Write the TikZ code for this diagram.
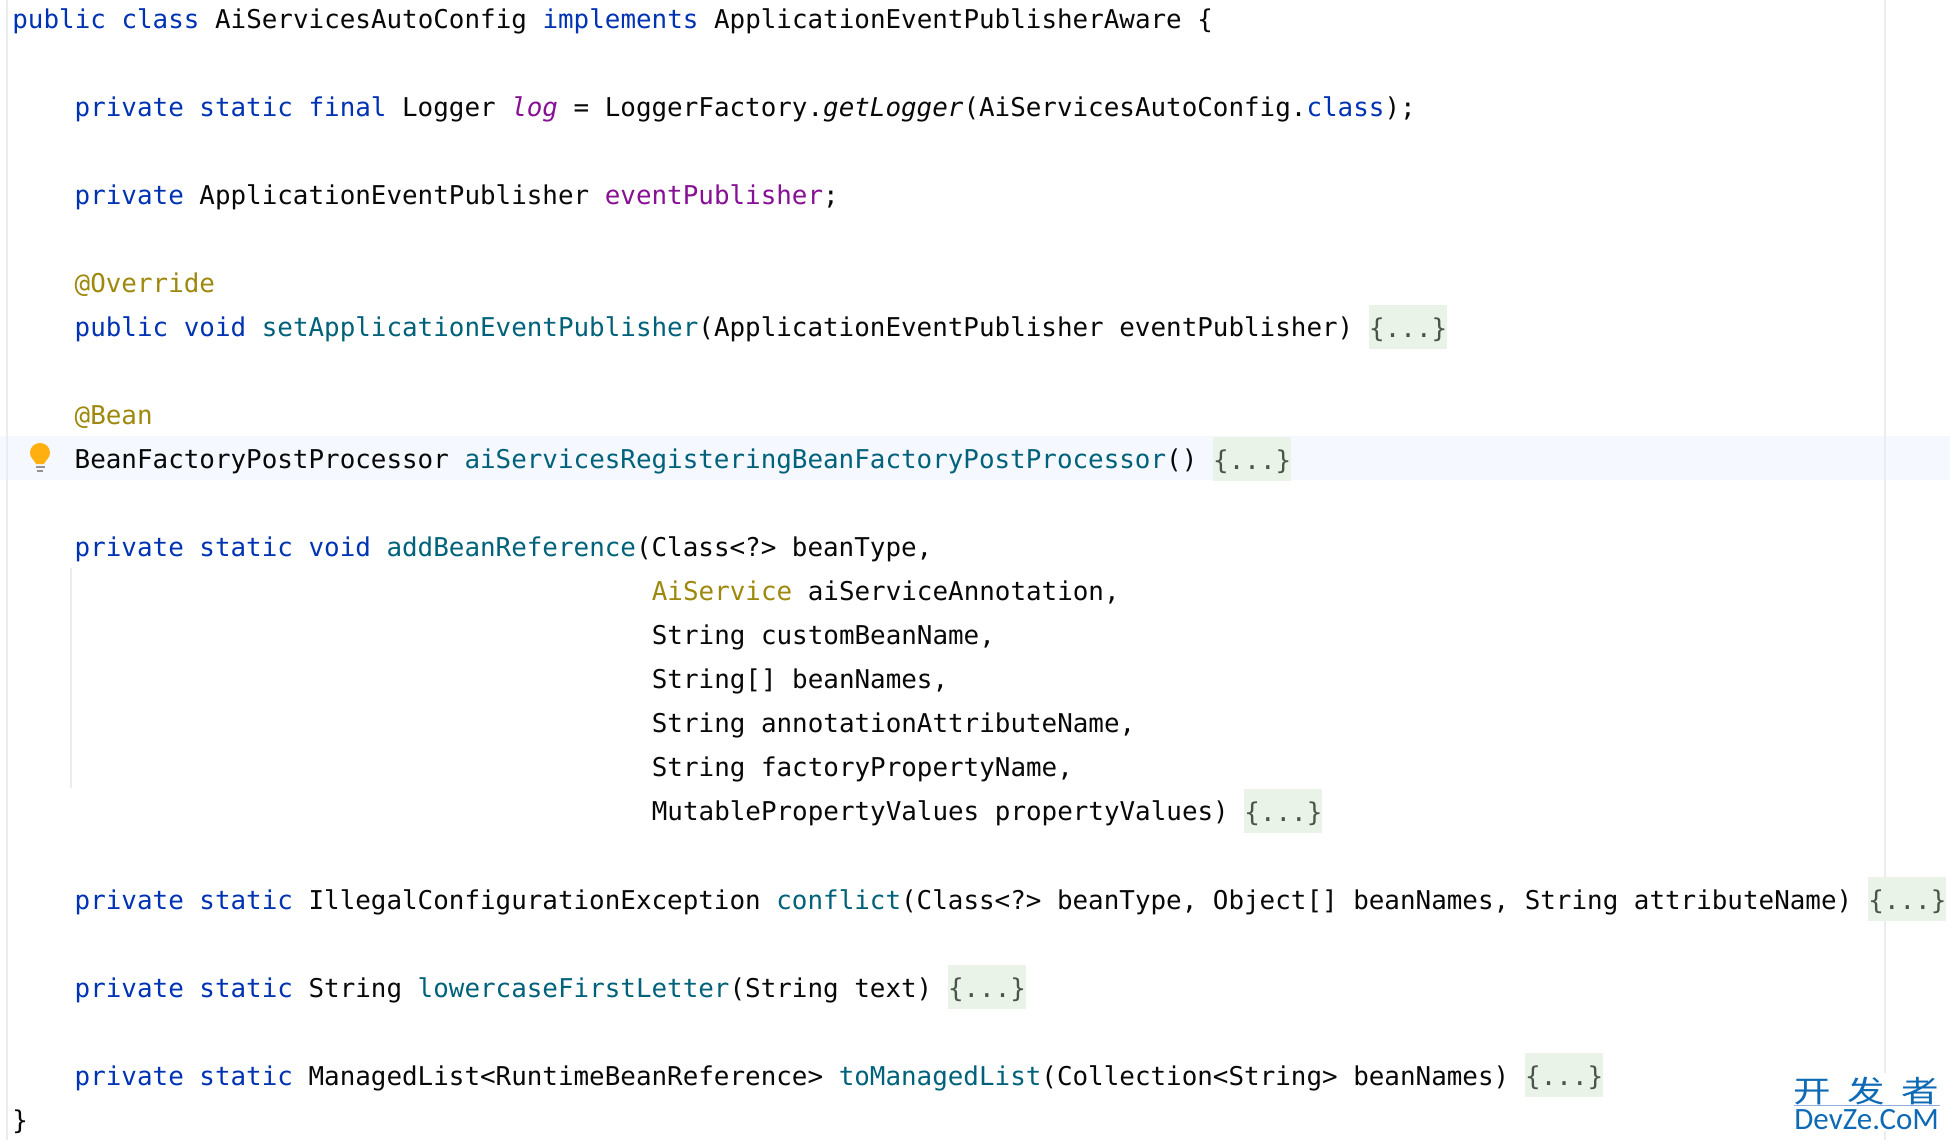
\documentclass[tikz,border=0pt]{standalone}
\usepackage{fontspec}
\setmonofont{DejaVu Sans Mono}
\newfontfamily\wmcjk{Noto Sans CJK SC}
\newfontfamily\wmlat{Carlito}
\definecolor{kwc}{HTML}{0033B3}
\definecolor{mtc}{HTML}{00627A}
\definecolor{fdc}{HTML}{871094}
\definecolor{anc}{HTML}{9E880D}
\definecolor{txc}{HTML}{080808}
\definecolor{foldbg}{HTML}{E9F3E7}
\definecolor{foldtx}{HTML}{4A554A}
\definecolor{guide}{HTML}{EBECF0}
\definecolor{caret}{HTML}{F5F8FE}
\definecolor{bulb}{HTML}{FFAF0F}
\definecolor{wmc}{HTML}{0E6AB5}
\newcommand{\kw}[1]{\textcolor{kwc}{#1}}
\newcommand{\mt}[1]{\textcolor{mtc}{#1}}
\newcommand{\fd}[1]{\textcolor{fdc}{#1}}
\newcommand{\an}[1]{\textcolor{anc}{#1}}
\tikzset{
  code/.style={anchor=base west,inner sep=0pt,text=txc,font=\fontsize{12.95pt}{16pt}\ttfamily},
  fold/.style={anchor=base west,inner sep=0pt,fill=foldbg,text=foldtx,text width=39pt,align=center,
    text height=16pt,text depth=6pt,font=\fontsize{12.95pt}{16pt}\ttfamily},
  rule/.style={draw=guide,line width=0.75pt}
}
\begin{document}
\begin{tikzpicture}[x=0.5pt,y=-0.5pt]
\useasboundingbox (0,0) rectangle (1950,1140);
% editor chrome
\fill[caret] (0,436) rectangle (1950,480);
\draw[rule] (7,0) -- (7,1140);
\draw[rule] (1885,0) -- (1885,1140);
\draw[rule] (71,568) -- (71,788);
% code lines
\node[code] (l0) at (12,28) {\kw{public class} AiServicesAutoConfig \kw{implements} ApplicationEventPublisherAware \{};
\node[code] (l2) at (74.3,116) {\kw{private static final} Logger \textit{\fd{log}} = LoggerFactory.\textit{getLogger}(AiServicesAutoConfig.\kw{class});};
\node[code] (l4) at (74.3,204) {\kw{private} ApplicationEventPublisher \fd{eventPublisher};};
\node[code] (l6) at (74.3,292) {\an{@Override}};
\node[code] (l7) at (74.3,336) {\kw{public void} \mt{setApplicationEventPublisher}(ApplicationEventPublisher eventPublisher)};
\node[fold] (f7) at (1368.8,337) {\{...\}};
\node[code] (l9) at (74.3,424) {\an{@Bean}};
\node[code] (l10) at (74.3,468) {BeanFactoryPostProcessor \mt{aiServicesRegisteringBeanFactoryPostProcessor}()};
\node[fold] (f10) at (1212.8,469) {\{...\}};
\node[code] (l12) at (74.3,556.5) {\kw{private static void} \mt{addBeanReference}(Class<?> beanType,};
\node[code] (l13) at (651.5,600.5) {\an{AiService} aiServiceAnnotation,};
\node[code] (l14) at (651.5,644.5) {String customBeanName,};
\node[code] (l15) at (651.5,688.5) {String[] beanNames,};
\node[code] (l16) at (651.5,732.5) {String annotationAttributeName,};
\node[code] (l17) at (651.5,776.5) {String factoryPropertyName,};
\node[code] (l18) at (651.5,820.5) {MutablePropertyValues propertyValues)};
\node[fold] (f18) at (1244,821) {\{...\}};
\node[code] (l20) at (74.3,909) {\kw{private static} IllegalConfigurationException \mt{conflict}(Class<?> beanType, Object[] beanNames, String attributeName)};
\node[fold] (f20) at (1868,909) {\{...\}};
\node[code] (l22) at (74.3,997) {\kw{private static} String \mt{lowercaseFirstLetter}(String text)};
\node[fold] (f22) at (947.6,997) {\{...\}};
\node[code] (l24) at (74.3,1085) {\kw{private static} ManagedList<RuntimeBeanReference> \mt{toManagedList}(Collection<String> beanNames)};
\node[fold] (f24) at (1524.8,1085) {\{...\}};
\node[code] (l25) at (12,1129) {\}};
% light bulb
\fill[bulb] (30,453) .. controls (30,447) and (34.5,443) .. (40,443)
  .. controls (45.5,443) and (50,447) .. (50,453)
  .. controls (50,458) and (45.5,460) .. (44,464) -- (36,464)
  .. controls (34.5,460) and (30,458) .. (30,453) -- cycle;
\fill[gray!85] (35.5,465.5) rectangle (44.5,468);
\fill[gray!85] (37,469.5) rectangle (43,472);
% watermark
\fill[white] (1788,1073) rectangle (1945,1131);
\node[anchor=base west,inner sep=0pt,text=wmc,font=\fontsize{15pt}{18pt}\wmcjk,xscale=1.25] (wm1) at (1793,1102) {开\hspace{6.6pt}发\hspace{6.6pt}者};
\coordinate (wmL) at (1794,1105.5);
\coordinate (wmR) at (1940,1105.5);
\draw[draw=cyan!50!blue!45,line width=0.4pt] (wmL) -- (wmR);
\node[anchor=base west,inner sep=0pt,text=wmc,font=\fontsize{15.5pt}{18pt}\wmlat] (wm2) at (1794,1129.5) {DevZe.CoM};
\end{tikzpicture}
\end{document}
